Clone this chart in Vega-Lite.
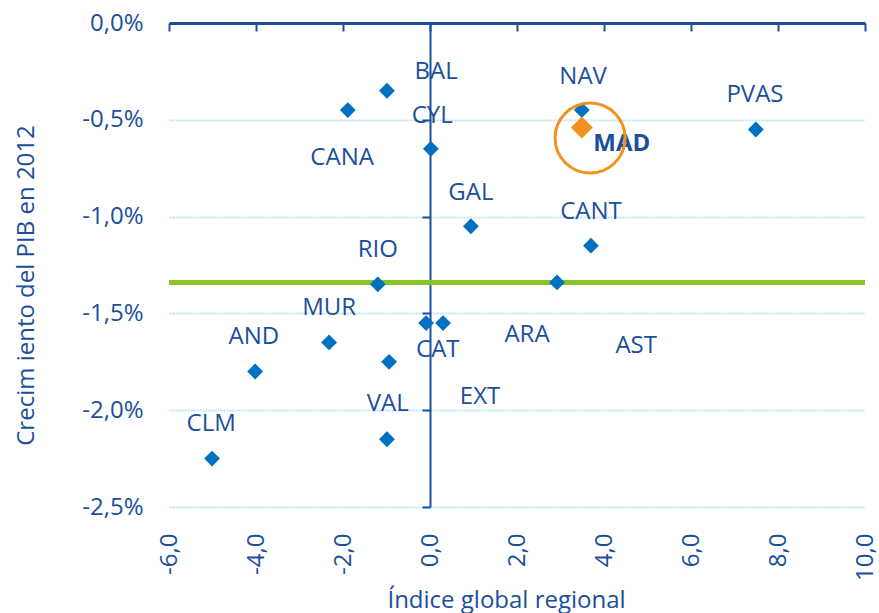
{
  "$schema": "https://vega.github.io/schema/vega-lite/v6.json",
  "autosize": {"type": "none"},
  "padding": {"left": 169, "top": 23, "right": 14, "bottom": 106},
  "width": 696,
  "height": 484,
  "background": "white",
  "config": {
    "view": {"stroke": null},
    "font": "Open Sans",
    "axis": {"labelFont": "Open Sans", "titleFont": "Open Sans", "labelColor": "#1B4F9C", "titleColor": "#1B4F9C", "labelFontSize": 24, "titleFontSize": 24, "titleFontWeight": "normal"}
  },
  "datasets": {
    "regions": [
      {"region": "BAL", "indice": -0.99, "crecimiento": -0.35, "lx": 0.14, "ly": -0.254},
      {"region": "CANA", "indice": -1.89, "crecimiento": -0.45, "lx": -2.02, "ly": -0.697},
      {"region": "CYL", "indice": 0.02, "crecimiento": -0.65, "lx": 0.05, "ly": -0.481},
      {"region": "NAV", "indice": 3.49, "crecimiento": -0.45, "lx": 3.52, "ly": -0.28},
      {"region": "MAD", "indice": 3.49, "crecimiento": -0.54, "lx": 4.41, "ly": -0.625},
      {"region": "PVAS", "indice": 7.49, "crecimiento": -0.55, "lx": 7.47, "ly": -0.373},
      {"region": "GAL", "indice": 0.94, "crecimiento": -1.05, "lx": 0.94, "ly": -0.878},
      {"region": "CANT", "indice": 3.7, "crecimiento": -1.15, "lx": 3.7, "ly": -0.976},
      {"region": "AST", "indice": 2.92, "crecimiento": -1.34, "lx": 4.74, "ly": -1.666},
      {"region": "RIO", "indice": -1.2, "crecimiento": -1.35, "lx": -1.2, "ly": -1.172},
      {"region": "MUR", "indice": -2.32, "crecimiento": -1.65, "lx": -2.32, "ly": -1.47},
      {"region": "AND", "indice": -4.02, "crecimiento": -1.8, "lx": -4.05, "ly": -1.62},
      {"region": "CLM", "indice": -5.01, "crecimiento": -2.25, "lx": -5.03, "ly": -2.07},
      {"region": "EXT", "indice": -0.94, "crecimiento": -1.75, "lx": 1.15, "ly": -1.934},
      {"region": "VAL", "indice": -0.99, "crecimiento": -2.15, "lx": -0.97, "ly": -1.97},
      {"region": "CAT", "indice": -0.09, "crecimiento": -1.55, "lx": 0.18, "ly": -1.687},
      {"region": "ARA", "indice": 0.3, "crecimiento": -1.55, "lx": 2.23, "ly": -1.61}
    ],
    "media": [{"crecimiento": -1.34}],
    "highlight": [{"indice": 3.68, "crecimiento": -0.594}]
  },
  "resolve": {"axis": {"x": "independent", "y": "independent"}},
  "layer": [
    {
      "data": {"name": "media"},
      "mark": {"type": "rule", "color": "#88C425", "strokeWidth": 5},
      "encoding": {
        "y": {
          "field": "crecimiento", "type": "quantitative",
          "scale": {"domain": [-2.5, 0], "nice": false, "zero": false},
          "axis": {"orient": "left", "offset": -261, "labels": false, "grid": false, "domain": true, "domainColor": "#1B4F9C", "domainWidth": 2, "ticks": true, "tickColor": "#1B4F9C", "tickWidth": 2, "tickSize": 8, "values": [0, -0.5, -1, -1.5, -2, -2.5], "title": null}
        }
      }
    },
    {
      "data": {"name": "regions"},
      "mark": {"type": "point", "shape": "diamond", "filled": true, "opacity": 1},
      "encoding": {
        "x": {
          "field": "indice", "type": "quantitative",
          "scale": {"domain": [-6, 10], "nice": false, "zero": false},
          "axis": {"orient": "bottom", "domain": false, "ticks": false, "tickSize": 0, "grid": false, "labelAngle": -90, "labelPadding": 26, "values": [-6, -4, -2, 0, 2, 4, 6, 8, 10], "labelExpr": "(datum.value < 0 ? '-' : '') + replace(format(abs(datum.value), '.1f'), '.', ',')", "title": "Índice global regional", "titleBaseline": "alphabetic", "titleX": 337, "titleY": 100, "titleAnchor": "middle", "titleAlign": "center"}
        },
        "y": {
          "field": "crecimiento", "type": "quantitative",
          "scale": {"domain": [-2.5, 0], "nice": false, "zero": false},
          "axis": {"orient": "left", "domain": false, "ticks": false, "tickSize": 0, "grid": true, "gridColor": "#BFE4F6", "gridWidth": 2, "gridDash": [2, 1], "labelPadding": 26, "values": [0, -0.5, -1, -1.5, -2, -2.5], "labelExpr": "(datum.value < 0 ? '-' : '') + replace(format(abs(datum.value), '.1f'), '.', ',') + '%'", "title": "Crecim iento del PIB en 2012", "titleX": -131, "titleY": 262, "titleAngle": -90, "titleBaseline": "bottom", "titleAlign": "center"}
        },
        "color": {"condition": {"test": "datum.region === 'MAD'", "value": "#F39020"}, "value": "#0070C0"},
        "size": {"condition": {"test": "datum.region === 'MAD'", "value": 480}, "value": 250}
      }
    },
    {
      "data": {"name": "regions"},
      "transform": [{"filter": "datum.region !== 'MAD'"}],
      "mark": {"type": "text", "fontSize": 24, "font": "Open Sans", "color": "#1B4F9C", "baseline": "middle", "align": "center"},
      "encoding": {
        "x": {
          "field": "lx", "type": "quantitative",
          "scale": {"domain": [-6, 10], "nice": false, "zero": false},
          "axis": {"orient": "bottom", "offset": -484, "labels": false, "grid": false, "domain": true, "domainColor": "#1B4F9C", "domainWidth": 3, "ticks": true, "tickColor": "#1B4F9C", "tickWidth": 2, "tickSize": 8, "values": [-6, -4, -2, 0, 2, 4, 6, 8, 10], "title": null}
        },
        "y": {
          "field": "ly", "type": "quantitative",
          "scale": {"domain": [-2.5, 0], "nice": false, "zero": false},
          "axis": null
        },
        "text": {"field": "region", "type": "nominal"}
      }
    },
    {
      "data": {"name": "regions"},
      "transform": [{"filter": "datum.region === 'MAD'"}],
      "mark": {"type": "text", "fontSize": 24, "font": "Open Sans", "fontWeight": "bold", "color": "#1B4F9C", "baseline": "middle", "align": "center"},
      "encoding": {
        "x": {"field": "lx", "type": "quantitative", "scale": {"domain": [-6, 10], "nice": false, "zero": false}, "axis": null},
        "y": {"field": "ly", "type": "quantitative", "scale": {"domain": [-2.5, 0], "nice": false, "zero": false}, "axis": null},
        "text": {"field": "region", "type": "nominal"}
      }
    },
    {
      "data": {"name": "highlight"},
      "mark": {"type": "point", "shape": "circle", "filled": false, "stroke": "#F39020", "strokeWidth": 3, "size": 4900, "opacity": 1},
      "encoding": {
        "x": {"field": "indice", "type": "quantitative", "scale": {"domain": [-6, 10], "nice": false, "zero": false}, "axis": null},
        "y": {"field": "crecimiento", "type": "quantitative", "scale": {"domain": [-2.5, 0], "nice": false, "zero": false}, "axis": null}
      }
    }
  ]
}
